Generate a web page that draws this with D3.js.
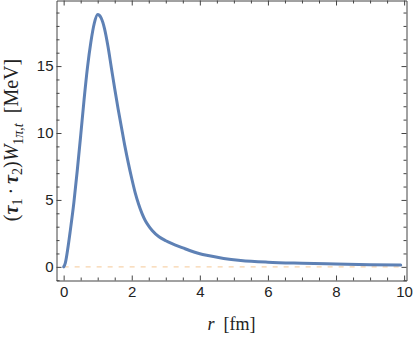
<!DOCTYPE html>
<html>
<head>
<meta charset="utf-8">
<script src="https://cdn.jsdelivr.net/npm/d3@7"></script>
<style>
  body { margin: 0; background: #fff; }
  svg { display: block; }
</style>
</head>
<body>
<div id="chart"></div>
<script>
// radius r [fm] and the potential W [MeV]
const rValues = [0, 0.05, 0.1, 0.2, 0.3, 0.4, 0.5, 0.6, 0.7, 0.8, 0.9, 1.0, 1.1, 1.2, 1.3, 1.4, 1.5, 1.6, 1.7, 1.8, 1.9, 2.0, 2.1, 2.2, 2.3, 2.4, 2.5, 2.6, 2.8, 3.0, 3.2, 3.5, 3.7, 4.0, 4.2, 4.7, 5.2, 6.0, 7.0, 8.0, 9.0, 9.9];
const wValues = [0, 0.3, 1.0, 2.8, 4.8, 7.2, 9.8, 12.5, 14.9, 16.8, 18.2, 18.85, 18.6, 17.8, 16.5, 14.9, 13.3, 11.8, 10.4, 9.0, 7.75, 6.6, 5.55, 4.7, 4.0, 3.45, 3.05, 2.72, 2.25, 1.95, 1.72, 1.42, 1.22, 0.98, 0.86, 0.63, 0.48, 0.35, 0.27, 0.21, 0.16, 0.13];

const xMajor = [0, 2, 4, 6, 8, 10];
const yMajor = [0, 5, 10, 15];

const w = 415, h = 339;
const mLeft = 56.5, mRight = 406.5, mTop = 0.5, mBottom = 280.5;

const x = d3.scaleLinear().domain([-0.21, 10.07]).range([mLeft, mRight]);
const y = d3.scaleLinear().domain([-1.02, 19.9]).range([mBottom, mTop]);

const svg = d3.select('#chart')
    .append('svg')
    .attr('width', w)
    .attr('height', h);

const data = rValues.map((r, i) => ({ r: r, v: wValues[i] }));

// zero reference line
svg.append('line')
    .attr('x1', x(0))
    .attr('x2', x(9.9))
    .attr('y1', y(0))
    .attr('y2', y(0))
    .attr('stroke', '#F8D3AC')
    .attr('stroke-width', 1.4)
    .attr('stroke-dasharray', '5,6');

const line = d3.line()
    .x(d => x(d.r))
    .y(d => y(d.v))
    .curve(d3.curveMonotoneX);

svg.append('path')
    .datum(data)
    .attr('fill', 'none')
    .attr('stroke', '#5E81B5')
    .attr('stroke-width', 3)
    .attr('stroke-linejoin', 'round')
    .attr('stroke-linecap', 'round')
    .attr('d', line);

// frame with inward ticks on every side
const frameColor = '#444';
const xMinor = d3.range(0, 10.01, 0.5).filter(t => t % 2 !== 0);
const yMinor = d3.range(-1, 19.5, 1).filter(t => t % 5 !== 0);

const axes = [
    { ax: () => d3.axisBottom(x), pos: `translate(0,${mBottom})`, maj: xMajor, min: xMinor, labels: true, pad: 6 },
    { ax: () => d3.axisTop(x), pos: `translate(0,${mTop})`, maj: xMajor, min: xMinor, labels: false, pad: 3 },
    { ax: () => d3.axisLeft(y), pos: `translate(${mLeft},0)`, maj: yMajor, min: yMinor, labels: true, pad: 3 },
    { ax: () => d3.axisRight(y), pos: `translate(${mRight},0)`, maj: yMajor, min: yMinor, labels: false, pad: 3 }
];

axes.forEach(a => {
    // minor ticks first
    svg.append('g')
        .attr('transform', a.pos)
        .call(a.ax().tickValues(a.min).tickSize(-3).tickFormat('').tickSizeOuter(0))
        .call(g => g.select('.domain').remove())
        .selectAll('line').attr('stroke', frameColor);

    const g = svg.append('g')
        .attr('transform', a.pos)
        .call(a.ax().tickValues(a.maj).tickSize(-5).tickPadding(a.pad).tickSizeOuter(0)
            .tickFormat(a.labels ? d3.format('d') : ''));
    g.select('.domain').attr('stroke', frameColor);
    g.selectAll('line').attr('stroke', frameColor);
    g.selectAll('text')
        .attr('font-family', 'Liberation Sans, Arial, sans-serif')
        .attr('font-size', 15)
        .attr('fill', '#222');
});

// axis titles
svg.append('text')
    .attr('x', (mLeft + mRight) / 2)
    .attr('y', 330)
    .attr('text-anchor', 'middle')
    .attr('font-family', 'Liberation Serif, serif')
    .attr('font-size', 18)
    .attr('fill', '#222')
    .call(t => {
        t.append('tspan').attr('font-style', 'italic').text('r');
        t.append('tspan').text('\u2002[fm]');
    });

const yTitle = svg.append('text')
    .attr('transform', `translate(17.5,140) rotate(-90)`)
    .attr('text-anchor', 'middle')
    .attr('font-family', 'Liberation Serif, serif')
    .attr('font-size', 20)
    .attr('fill', '#222');

const sub = 14;
yTitle.append('tspan').text('(');
yTitle.append('tspan').attr('font-style', 'italic').attr('font-weight', 'bold').text('\u03C4');
yTitle.append('tspan').attr('font-size', sub).attr('dy', 4).text('1');
yTitle.append('tspan').attr('dy', -4).text('\u2009\u00B7\u2009');
yTitle.append('tspan').attr('font-style', 'italic').attr('font-weight', 'bold').text('\u03C4');
yTitle.append('tspan').attr('font-size', sub).attr('dy', 4).text('2');
yTitle.append('tspan').attr('dy', -4).text(')');
yTitle.append('tspan').attr('font-style', 'italic').text('W');
yTitle.append('tspan').attr('font-size', sub).attr('dy', 5).text('1');
yTitle.append('tspan').attr('font-size', sub).attr('font-style', 'italic').text('\u03C0');
yTitle.append('tspan').attr('font-size', sub).text(',');
yTitle.append('tspan').attr('font-size', sub).attr('font-style', 'italic').text('t');
yTitle.append('tspan').attr('dy', -5).text('\u2002[MeV]');
</script>
</body>
</html>
